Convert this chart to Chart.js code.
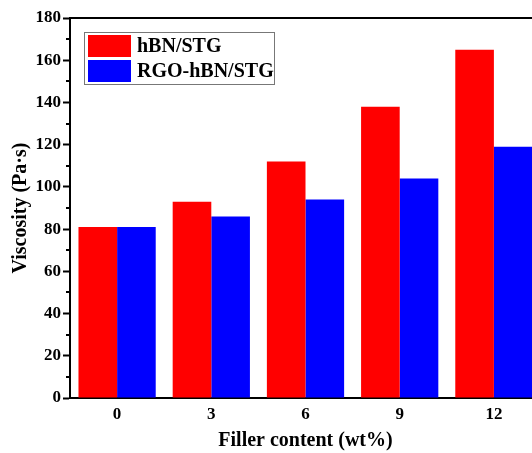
<!DOCTYPE html>
<html>
<head>
<meta charset="utf-8">
<script src="https://cdn.jsdelivr.net/npm/chart.js@4"></script>
<style>
  html, body { margin: 0; padding: 0; overflow: hidden; background: #fff; }
  #wrap { width: 532px; height: 453px; overflow: hidden; }
</style>
</head>
<body>
<div id="wrap"><canvas id="visc" width="542" height="453"></canvas></div>
<script>
const fillerContent = ['0', '3', '6', '9', '12'];
const hbnStg = [81, 93, 112, 138, 165];
const rgoHbnStg = [81, 86, 94, 104, 119];
const yMinorTicks = [10, 30, 50, 70, 90, 110, 130, 150, 170];

const FONT = '"Liberation Serif", "Times New Roman", serif';

// legend box drawn inside the plot, top-left
const boxLegend = {
  id: 'boxLegend',
  afterDraw(chart) {
    const ctx = chart.ctx;
    const x0 = 84, y0 = 32;
    ctx.save();
    ctx.strokeStyle = '#777';
    ctx.lineWidth = 1;
    ctx.strokeRect(x0 + 0.5, y0 + 0.5, 190, 52);
    ctx.font = 'bold 20px ' + FONT;
    ctx.textBaseline = 'middle';
    chart.data.datasets.forEach(function (ds, i) {
      const y = y0 + 3 + i * 25;
      ctx.fillStyle = ds.backgroundColor;
      ctx.fillRect(x0 + 4, y, 43, 22);
      ctx.fillStyle = '#000';
      ctx.fillText(ds.label, x0 + 53, y + 12);
    });
    ctx.restore();
  }
};

// top frame line + minor ticks on the y axis
const frame = {
  id: 'frame',
  afterDraw(chart) {
    const ctx = chart.ctx;
    const a = chart.chartArea;
    const y = chart.scales.y;
    ctx.save();
    ctx.strokeStyle = '#000';
    ctx.lineWidth = 2;
    ctx.beginPath();
    ctx.moveTo(a.left - 1, a.top);
    ctx.lineTo(a.right + 10, a.top);
    ctx.stroke();
    ctx.beginPath();
    yMinorTicks.forEach(function (v) {
      const py = Math.round(y.getPixelForValue(v));
      ctx.moveTo(a.left - 4, py);
      ctx.lineTo(a.left, py);
    });
    ctx.stroke();
    ctx.restore();
  }
};

new Chart(document.getElementById('visc'), {
  type: 'bar',
  data: {
    labels: fillerContent,
    datasets: [
      { label: 'hBN/STG', data: hbnStg, backgroundColor: '#ff0000' },
      { label: 'RGO-hBN/STG', data: rgoHbnStg, backgroundColor: '#0000ff' }
    ]
  },
  options: {
    responsive: false,
    animation: false,
    devicePixelRatio: 1,
    layout: { padding: { top: 18, right: 1, left: 0, bottom: 0 } },
    datasets: {
      bar: { barPercentage: 1, categoryPercentage: 0.82 }
    },
    plugins: {
      legend: { display: false },
      tooltip: { enabled: false }
    },
    scales: {
      x: {
        afterFit(scale) { scale.height = 55; },
        grid: { display: true, drawOnChartArea: false, drawTicks: false },
        border: { color: '#000', width: 2 },
        ticks: { color: '#000', padding: 6, font: { family: FONT, size: 17, weight: 'bold' } },
        title: {
          display: true,
          text: 'Filler content (wt%)',
          color: '#000',
          padding: { top: 0, bottom: 0 },
          font: { family: FONT, size: 20, weight: 'bold' }
        }
      },
      y: {
        min: 0,
        max: 180,
        afterFit(scale) { scale.width = 70; },
        grid: { drawOnChartArea: false, tickLength: 7, tickWidth: 2, tickColor: '#000' },
        border: { color: '#000', width: 2 },
        ticks: { stepSize: 20, color: '#000', padding: 2, font: { family: FONT, size: 17, weight: 'bold' } },
        title: {
          display: true,
          text: 'Viscosity (Pa·s)',
          color: '#000',
          padding: { top: 9, bottom: 0 },
          font: { family: FONT, size: 20, weight: 'bold' }
        }
      }
    }
  },
  plugins: [boxLegend, frame]
});
</script>
</body>
</html>
